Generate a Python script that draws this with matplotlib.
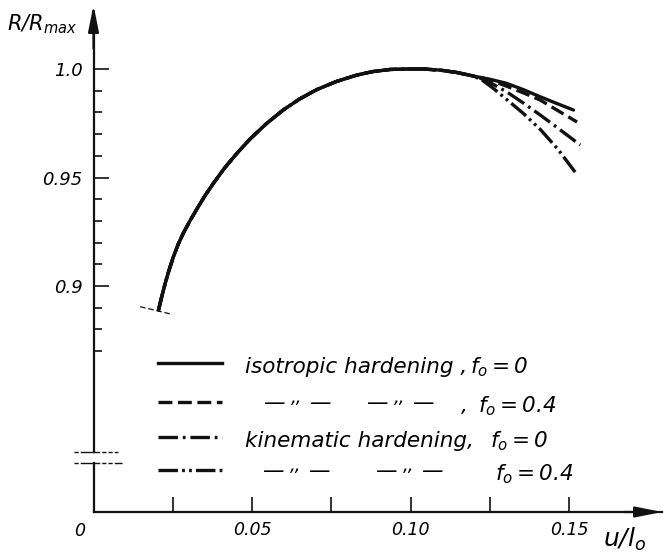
"""R/Rmax versus u/l0 for isotropic and kinematic hardening (scanned figure redrawn)."""

import matplotlib
matplotlib.use('Agg')
import matplotlib.pyplot as plt
import matplotlib.transforms as mtransforms

plt.rcParams['font.family'] = 'DejaVu Sans'
plt.rcParams['font.style'] = 'italic'
plt.rcParams['mathtext.fontset'] = 'custom'
plt.rcParams['mathtext.rm'] = 'DejaVu Sans:italic'
plt.rcParams['mathtext.it'] = 'DejaVu Sans:italic'
plt.rcParams['lines.scale_dashes'] = False

INK = '#111111'

# part of the curve shared by all four cases
common_u = [0.0205, 0.0215, 0.0226, 0.0238, 0.0252, 0.0267, 0.0283, 0.0304,
            0.0326, 0.0351, 0.0378, 0.0414, 0.0452, 0.0494, 0.0545, 0.0598,
            0.0650, 0.0704, 0.0765, 0.0830, 0.0880, 0.0935, 0.0990, 0.1040,
            0.1093, 0.1146, 0.1197]
common_r = [0.8889, 0.8950, 0.9012, 0.9072, 0.9135, 0.9192, 0.9243, 0.9300,
            0.9355, 0.9415, 0.9473, 0.9545, 0.9611, 0.9678, 0.9748, 0.9811,
            0.9862, 0.9905, 0.9942, 0.9972, 0.9988, 0.9998, 1.0000, 1.0000,
            0.9995, 0.9984, 0.9968]

# branches after the curves split
iso0_u = [0.1225, 0.1250, 0.1303, 0.1356, 0.1409, 0.1460, 0.1514]
iso0_r = [0.9960, 0.9953, 0.9934, 0.9905, 0.9872, 0.9842, 0.9811]
iso4_u = [0.1225, 0.1250, 0.1303, 0.1356, 0.1409, 0.1465, 0.1525]
iso4_r = [0.9959, 0.9950, 0.9921, 0.9890, 0.9857, 0.9808, 0.9756]
kin0_u = [0.1225, 0.1250, 0.1303, 0.1356, 0.1409, 0.1470, 0.1535]
kin0_r = [0.9955, 0.9938, 0.9895, 0.9843, 0.9788, 0.9722, 0.9650]
kin4_u = [0.1225, 0.1260, 0.1303, 0.1356, 0.1409, 0.1465, 0.1519]
kin4_r = [0.9950, 0.9912, 0.9860, 0.9795, 0.9722, 0.9630, 0.9525]

x_major = [0.05, 0.10, 0.15]
x_minor = [0.025, 0.075, 0.125]
x_labels = ['0.05', '0.10', '0.15']
y_major = [0.90, 0.95, 1.00]
y_minor = [0.87, 0.88, 0.89, 0.91, 0.92, 0.93, 0.94, 0.96, 0.97, 0.98, 0.99]
y_labels = ['0.9', '0.95', '1.0']

X_MAX, Y_MIN, Y_MAX = 0.1793, 0.7959, 1.0295
Y_BREAK = (0.8184, 0.8235)

styles = [
    ('-', None),
    ('--', (10, 4)),
    ('-.', (14, 3.5, 2, 3.5)),
    (':', (14, 3, 2, 3, 2, 3)),
]

fig = plt.figure(figsize=(6.64, 5.57), dpi=100)
ax = fig.add_axes([93.5 / 664, 45 / 557, 568.5 / 664, 507 / 557])
ax.set_xlim(0, X_MAX)
ax.set_ylim(Y_MIN, Y_MAX)

branches = [(iso0_u, iso0_r), (iso4_u, iso4_r), (kin0_u, kin0_r), (kin4_u, kin4_r)]
# draw broken-line styles first so the solid one sits on top
for (bu, br), (ls, dash) in reversed(list(zip(branches, styles))):
    line, = ax.plot(common_u + bu, common_r + br, color=INK, lw=2.4,
                    solid_capstyle='round', solid_joinstyle='round')
    if dash is not None:
        line.set_dashes(dash)

# fracture mark at the start of the curve
mark, = ax.plot([0.0147, 0.0247], [0.8905, 0.8870], color=INK, lw=0.9)
mark.set_dashes((4, 2))

# axes: bottom spine + hand-drawn broken y axis
for side in ['top', 'right', 'left']:
    ax.spines[side].set_visible(False)
ax.spines['bottom'].set_linewidth(1.6)
ax.spines['bottom'].set_color(INK)
ax.plot([0, 0], [Y_MIN, Y_BREAK[0]], color=INK, lw=1.6, clip_on=False)
ax.plot([0, 0], [Y_BREAK[1], Y_MAX - 0.01], color=INK, lw=1.6, clip_on=False)
for yb, xr in zip(Y_BREAK, [0.0090, 0.0077]):
    br_line, = ax.plot([-0.0062, xr], [yb, yb], color=INK, lw=1.0, clip_on=False)
    br_line.set_dashes((3, 1.5, 14, 1.5, 3, 1.5))

arrow = dict(arrowstyle='-|>,head_length=1.6,head_width=0.32', color=INK,
             lw=1.6, shrinkA=0, shrinkB=0)
ax.annotate('', xy=(0, Y_MAX), xytext=(0, Y_MAX - 0.02), arrowprops=arrow,
            annotation_clip=False)
ax.annotate('', xy=(X_MAX, Y_MIN), xytext=(X_MAX - 0.012, Y_MIN), arrowprops=arrow,
            annotation_clip=False)

ax.set_xticks(x_major)
ax.set_xticklabels(x_labels)
ax.set_xticks(x_minor, minor=True)
ax.set_yticks(y_major)
ax.set_yticklabels(y_labels)
ax.set_yticks(y_minor, minor=True)
ax.tick_params(which='both', direction='in', width=1.2, color=INK)
ax.tick_params(axis='x', which='both', length=11, pad=6.5, labelsize=12.5)
ax.tick_params(axis='y', which='major', length=11, pad=8, labelsize=13)
ax.tick_params(axis='y', which='minor', length=6)
ax.text(-0.0043, -0.0375, '0', transform=ax.get_xaxis_transform(),
        ha='center', va='center', fontsize=12.5)

fig.text(7 / 664, 1 - 30 / 557, r'$R/R_{max}$', fontsize=15, ha='left', va='baseline')
fig.text(603 / 664, 1 - 547 / 557, r'$u/l_o$', fontsize=18, ha='left', va='baseline')

# hand-made legend
rows_y = [0.8645, 0.8465, 0.8304, 0.8152]
text_tr = mtransforms.offset_copy(ax.transData, fig=fig, y=-7.2, units='points')
dash_tr = mtransforms.offset_copy(ax.transData, fig=fig, y=-4.6, units='points')
comma_tr = mtransforms.offset_copy(ax.transData, fig=fig, y=-0.5, units='points')
FS = 15.5


def ditto(x, y):
    for dx in (-0.0073, 0.0073):
        ax.text(x + dx, y, '—', transform=dash_tr, ha='center', va='baseline', fontsize=FS)
    ax.text(x, y, ',,', transform=comma_tr, ha='center', va='baseline', fontsize=13)


for y, (ls, dash) in zip(rows_y, styles):
    sample, = ax.plot([0.0203, 0.0405], [y, y], color=INK, lw=2.4)
    if dash is not None:
        sample.set_dashes(dash)

ax.text(0.0478, rows_y[0], 'isotropic hardening ,', transform=text_tr,
        ha='left', va='baseline', fontsize=FS)
ax.text(0.1188, rows_y[0], r'$f_o= 0$', transform=text_tr, ha='left', va='baseline', fontsize=FS)

ditto(0.0642, rows_y[1])
ditto(0.0967, rows_y[1])
ax.text(0.1160, rows_y[1], ',', transform=text_tr, ha='left', va='baseline', fontsize=FS)
ax.text(0.1213, rows_y[1], r'$f_o= 0.4$', transform=text_tr, ha='left', va='baseline', fontsize=FS)

ax.text(0.0478, rows_y[2], 'kinematic hardening,', transform=text_tr,
        ha='left', va='baseline', fontsize=FS)
ax.text(0.1251, rows_y[2], r'$f_o= 0$', transform=text_tr, ha='left', va='baseline', fontsize=FS)

ditto(0.0639, rows_y[3])
ditto(0.0995, rows_y[3])
ax.text(0.1266, rows_y[3], r'$f_o= 0.4$', transform=text_tr, ha='left', va='baseline', fontsize=FS)

fig.savefig('out.png', dpi=100)
plt.close(fig)
